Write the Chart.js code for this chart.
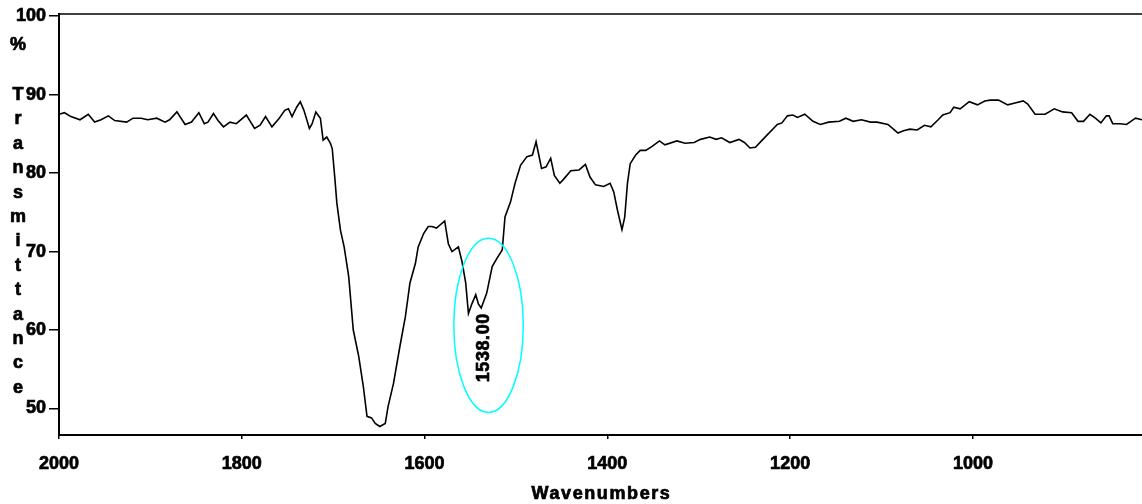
<!DOCTYPE html>
<html>
<head>
<meta charset="utf-8">
<script src="https://cdn.jsdelivr.net/npm/chart.js@4.4.1/dist/chart.umd.min.js"></script>
<style>
  html, body { margin: 0; padding: 0; background: #ffffff; }
  #wrap { width: 1142px; height: 504px; }
</style>
</head>
<body>
<div id="wrap"><canvas id="ir" width="1142" height="504"></canvas></div>
<script>
// IR spectrum, 2000 - 815 cm-1, in three stretches of the trace
const wnHigh = [2000,1994,1987,1977,1968,1961,1954,1946,1939,1926,
  1919,1910,1903,1893,1884,1879,1871,1862,1855,1847,
  1841,1837,1831,1826,1820,1813,1806,1795,1786,1780,
  1774,1767,1759,1753,1749,1745,1740,1736,1732,1726,
  1723,1719,1714,1711,1707,1703,1701];
const tHigh = [87.5,87.7,87.2,86.8,87.5,86.5,86.8,87.3,86.7,86.5,
  87.0,87.0,86.8,87.0,86.5,86.8,87.8,86.2,86.5,87.7,
  86.3,86.5,87.6,86.7,85.9,86.5,86.3,87.4,85.7,86.1,
  87.2,85.9,87.0,88.0,88.2,87.2,88.4,89.1,88.0,85.7,
  86.3,87.8,87.0,84.2,84.6,83.8,83.1];

const wnAmide = [1698,1696,1692,1688,1683,1678,1672,1667,1663,1658,
  1654,1649,1643,1640,1634,1627,1621,1616,1610,1607,
  1601,1596,1592,1587,1578,1574,1570,1563,1559,1555,
  1552,1548,1544,1541,1538,1532,1526,1521,1515,1512,
  1506,1501,1495,1488,1482,1478,1472,1467,1462,1458,
  1452,1448,1440,1431,1424,1419,1413,1404,1397,1393,
  1389,1384,1381,1378,1375,1369,1364];
const tAmide = [79.1,76.2,72.7,70.6,66.8,60.0,56.6,52.8,49.0,48.8,
  48.1,47.7,48.1,50.2,53.2,57.9,61.7,66.0,68.5,70.6,
  72.3,73.2,73.2,73.0,73.9,71.0,70.0,70.6,68.7,66.0,
  62.1,63.4,64.5,63.3,62.8,64.7,68.1,69.1,70.2,74.4,
  76.3,78.7,81.0,82.1,82.3,84.0,80.6,80.8,81.9,79.7,
  78.7,79.2,80.3,80.4,81.1,79.5,78.5,78.3,78.7,77.6,
  75.3,72.8,74.4,78.7,81.2,82.3,82.9];

const wnLow = [1358,1351,1343,1337,1324,1315,1305,1298,1288,1281,
  1275,1266,1256,1250,1244,1238,1229,1214,1209,1203,
  1197,1192,1184,1175,1167,1158,1146,1139,1131,1122,
  1112,1105,1093,1087,1082,1076,1069,1061,1053,1046,
  1038,1033,1025,1021,1014,1004,995,987,981,972,
  962,955,945,940,932,921,911,902,892,885,
  879,872,866,860,854,851,847,839,832,822,
  815];
const tLow = [82.9,83.4,84.1,83.6,84.1,83.8,83.9,84.3,84.6,84.3,
  84.5,83.9,84.3,83.9,83.2,83.3,84.4,86.2,86.4,87.3,
  87.4,87.1,87.5,86.6,86.2,86.5,86.6,87.0,86.6,86.8,
  86.5,86.5,86.2,85.6,85.1,85.4,85.6,85.5,86.1,85.9,
  86.8,87.4,87.7,88.4,88.2,89.1,88.7,89.2,89.3,89.3,
  88.7,88.9,89.2,88.8,87.5,87.5,88.2,87.8,87.7,86.6,
  86.6,87.5,87.0,86.4,87.3,87.3,86.3,86.3,86.2,87.0,
  86.8];

const xTicks = [2000, 1800, 1600, 1400, 1200, 1000];
const yTicks = [50, 60, 70, 80, 90, 100];
const xRange = [815, 2000];
const yRange = [46.62, 100.28];

// marked peak and the ellipse drawn round it (in data units)
const peakWn = 1538.00;
const peakT = 62.8;
const ringCentre = [1530, 60.6];
const ringHalf = [38, 11.1];

const yTitle = ['%', '', 'T', 'r', 'a', 'n', 's', 'm', 'i', 't', 't', 'a', 'n', 'c', 'e'];
const xTitle = 'Wavenumbers';

const wn = wnHigh.concat(wnAmide, wnLow);
const tr = tHigh.concat(tAmide, tLow);
const points = wn.map((w, i) => ({ x: w, y: tr[i] }));

const FONT = '"Liberation Sans", Arial, sans-serif';

// bold text with a thin outline so the strokes read heavier
function heavyText(ctx, text, x, y, spacing) {
  ctx.letterSpacing = spacing || '0px';
  ctx.lineWidth = 0.7;
  ctx.strokeStyle = '#000';
  ctx.fillStyle = '#000';
  ctx.fillText(text, x, y);
  ctx.strokeText(text, x, y);
  ctx.letterSpacing = '0px';
}

const frame = {
  id: 'frame',
  afterDraw(chart) {
    const { ctx, chartArea, scales } = chart;
    ctx.save();
    // top border of the plot
    ctx.strokeStyle = '#000';
    ctx.lineWidth = 1.5;
    ctx.beginPath();
    ctx.moveTo(chartArea.left, chartArea.top);
    ctx.lineTo(chartArea.right, chartArea.top);
    ctx.stroke();

    // stacked y-axis caption
    ctx.font = 'bold 18px ' + FONT;
    ctx.textAlign = 'center';
    ctx.textBaseline = 'middle';
    yTitle.forEach((ch, i) => {
      if (!ch) return;
      const y = i === 0 ? 45 : 95 + (i - 2) * 24.4;
      heavyText(ctx, ch, 18, y);
    });

    // x-axis caption
    ctx.font = 'bold 18px ' + FONT;
    ctx.textAlign = 'center';
    ctx.textBaseline = 'middle';
    heavyText(ctx, xTitle, (chartArea.left + chartArea.right) / 2 + 1, 494, '1.6px');

    // peak annotation
    const xs = scales.x, ys = scales.y;
    const cx = xs.getPixelForValue(ringCentre[0]);
    const cy = ys.getPixelForValue(ringCentre[1]);
    const rx = Math.abs(xs.getPixelForValue(ringCentre[0] - ringHalf[0]) - cx);
    const ry = Math.abs(ys.getPixelForValue(ringCentre[1] - ringHalf[1]) - cy);
    ctx.strokeStyle = '#00ffff';
    ctx.lineWidth = 1.5;
    ctx.beginPath();
    ctx.ellipse(cx, cy, rx, ry, 0, 0, Math.PI * 2);
    ctx.stroke();

    const px = xs.getPixelForValue(peakWn);
    const py = ys.getPixelForValue(peakT);
    ctx.translate(px + 3, py + 5);
    ctx.rotate(-Math.PI / 2);
    ctx.font = 'bold 18px ' + FONT;
    ctx.textAlign = 'right';
    ctx.textBaseline = 'middle';
    heavyText(ctx, peakWn.toFixed(2), 0, 0, '0.6px');
    ctx.restore();
  }
};

const tickFont = { family: FONT, size: 18, weight: 'bold' };

new Chart(document.getElementById('ir'), {
  type: 'line',
  data: {
    datasets: [{
      data: points,
      borderColor: '#000',
      borderWidth: 1.6,
      pointRadius: 0,
      tension: 0,
      fill: false
    }]
  },
  options: {
    responsive: false,
    animation: false,
    events: [],
    layout: { padding: { top: 14, left: 0, right: 0, bottom: 0 } },
    plugins: { legend: { display: false }, tooltip: { enabled: false } },
    scales: {
      x: {
        type: 'linear',
        reverse: true,
        min: xRange[0],
        max: xRange[1],
        afterBuildTicks: s => { s.ticks = xTicks.map(v => ({ value: v })); },
        afterFit: s => { s.height = 69; },
        grid: { drawOnChartArea: false, drawTicks: true, tickLength: 4, color: '#000', lineWidth: 1.5 },
        border: { display: true, color: '#000', width: 2 },
        ticks: {
          color: '#000', padding: 14, maxRotation: 0, autoSkip: false,
          font: tickFont, textStrokeColor: '#000', textStrokeWidth: 0.7,
          callback: v => String(v)
        }
      },
      y: {
        type: 'linear',
        min: yRange[0],
        max: yRange[1],
        afterBuildTicks: s => { s.ticks = yTicks.map(v => ({ value: v })); },
        afterFit: s => { s.width = 59; },
        grid: { drawOnChartArea: false, drawTicks: true, tickLength: 10, color: '#000', lineWidth: 1.5 },
        border: { display: true, color: '#000', width: 2 },
        ticks: {
          color: '#000', padding: 3, autoSkip: false,
          font: tickFont, textStrokeColor: '#000', textStrokeWidth: 0.7,
          callback: v => String(v)
        }
      }
    }
  },
  plugins: [frame]
});
</script>
</body>
</html>
